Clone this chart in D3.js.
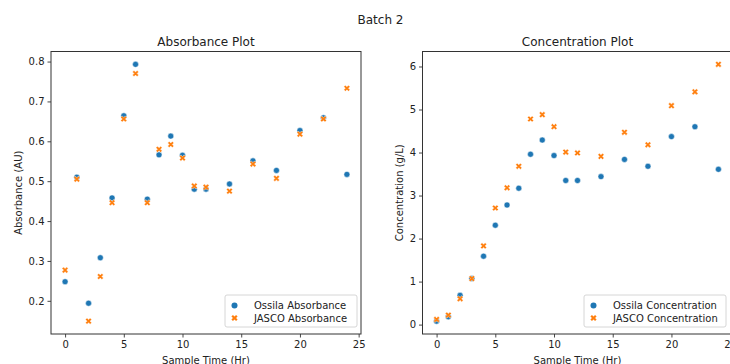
<!DOCTYPE html>
<html>
<head>
<meta charset="utf-8">
<script src="https://cdn.jsdelivr.net/npm/d3@7"></script>
<style>
  body { margin: 0; background: #fff; }
  text { font-family: "DejaVu Sans", sans-serif; fill: #222; }
</style>
</head>
<body>
<div id="chart"></div>
<script>
// sample times (hr)
const hours = [0, 1, 2, 3, 4, 5, 6, 7, 8, 9, 10, 11, 12, 14, 16, 18, 20, 22, 24];

// absorbance readings
const ossilaAbs = [0.248, 0.510, 0.194, 0.308, 0.458, 0.664, 0.793, 0.455, 0.566, 0.613, 0.565, 0.480, 0.480, 0.493, 0.551, 0.527, 0.627, 0.659, 0.517];
const jascoAbs  = [0.277, 0.505, 0.149, 0.261, 0.446, 0.656, 0.770, 0.446, 0.580, 0.592, 0.558, 0.488, 0.485, 0.475, 0.543, 0.507, 0.618, 0.656, 0.733];

// concentration readings (g/L)
const ossilaConc = [0.08, 0.18, 0.68, 1.07, 1.59, 2.31, 2.78, 3.17, 3.96, 4.29, 3.93, 3.35, 3.35, 3.44, 3.84, 3.68, 4.37, 4.60, 3.61];
const jascoConc  = [0.12, 0.22, 0.60, 1.07, 1.83, 2.71, 3.18, 3.68, 4.78, 4.88, 4.60, 4.01, 3.99, 3.91, 4.47, 4.18, 5.09, 5.41, 6.05];

const xTicks = [0, 5, 10, 15, 20, 25];
const absTicks = [0.2, 0.3, 0.4, 0.5, 0.6, 0.7, 0.8];
const concTicks = [0, 1, 2, 3, 4, 5, 6];

const blue = "#1f77b4", orange = "#ff7f0e";

const svg = d3.select("#chart")
    .append("svg")
    .attr("width", 730)
    .attr("height", 364);

svg.append("text")
    .attr("x", 380.5)
    .attr("y", 23.5)
    .attr("text-anchor", "middle")
    .style("font-size", "12px")
    .text("Batch 2");

// matplotlib style 5% padding around the data
function padded(ext) {
    const p = (ext[1] - ext[0]) * 0.05;
    return [ext[0] - p, ext[1] + p];
}

function drawPanel(opt) {
    const w = 310, h = 282.5;
    const g = svg.append("g").attr("transform", `translate(${opt.left},51.5)`);

    const x = d3.scaleLinear().domain(padded(d3.extent(hours))).range([0, w]);
    const y = d3.scaleLinear().domain(padded(d3.extent(opt.a.concat(opt.b)))).range([h, 0]);

    // axes
    const xAxis = g.append("g")
        .attr("transform", `translate(0,${h})`)
        .call(d3.axisBottom(x).tickValues(xTicks).tickSize(3.5).tickPadding(3).tickFormat(d3.format("d")));
    const yAxis = g.append("g")
        .call(d3.axisLeft(y).tickValues(opt.ticks).tickSize(3.5).tickPadding(3).tickFormat(opt.fmt));
    [xAxis, yAxis].forEach(a => {
        a.select(".domain").remove();
        a.selectAll("line").attr("stroke", "#333").attr("stroke-width", 0.9);
        a.selectAll("text").style("font-size", "10px").attr("fill", "#222");
    });

    // frame
    g.append("rect")
        .attr("width", w)
        .attr("height", h)
        .attr("fill", "none")
        .attr("stroke", "#333")
        .attr("stroke-width", 1);

    g.append("text")
        .attr("x", w / 2)
        .attr("y", -6)
        .attr("text-anchor", "middle")
        .style("font-size", "12px")
        .text(opt.title);

    g.append("text")
        .attr("x", w / 2)
        .attr("y", h + 30)
        .attr("text-anchor", "middle")
        .style("font-size", "10px")
        .text("Sample Time (Hr)");

    g.append("text")
        .attr("transform", "rotate(-90)")
        .attr("x", -h / 2)
        .attr("y", opt.ylabelX)
        .attr("text-anchor", "middle")
        .style("font-size", "10px")
        .text(opt.ylabel);

    const cross = d3.symbol().type(d3.symbolCross).size(24);

    g.selectAll(".dotA")
        .data(hours.map((d, i) => [d, opt.a[i]]))
        .enter().append("circle")
        .attr("cx", d => x(d[0]))
        .attr("cy", d => y(d[1]))
        .attr("r", 3)
        .attr("fill", blue)
        .attr("stroke", "#fff")
        .attr("stroke-width", 0.5);

    g.selectAll(".dotB")
        .data(hours.map((d, i) => [d, opt.b[i]]))
        .enter().append("path")
        .attr("d", cross)
        .attr("transform", d => `translate(${x(d[0])},${y(d[1])}) rotate(45)`)
        .attr("fill", orange)
        .attr("stroke", "#fff")
        .attr("stroke-width", 0.4);

    // legend
    const lg = g.append("g").attr("transform", `translate(${opt.legX},243.5)`);
    lg.append("rect")
        .attr("width", opt.legW)
        .attr("height", 32)
        .attr("rx", 2)
        .attr("fill", "#fff")
        .attr("fill-opacity", 0.8)
        .attr("stroke", "#ccc")
        .attr("stroke-width", 0.8);
    lg.append("circle")
        .attr("cx", 9.5).attr("cy", 10.5).attr("r", 3)
        .attr("fill", blue);
    lg.append("path")
        .attr("d", cross)
        .attr("transform", "translate(9.5,23) rotate(45)")
        .attr("fill", orange);
    lg.append("text").attr("x", 29).attr("y", 14).style("font-size", "10px").text(opt.names[0]);
    lg.append("text").attr("x", 29).attr("y", 27).style("font-size", "10px").text(opt.names[1]);
}

drawPanel({
    left: 51, a: ossilaAbs, b: jascoAbs, ticks: absTicks, fmt: d3.format(".1f"),
    title: "Absorbance Plot", ylabel: "Absorbance (AU)", ylabelX: -29,
    legX: 174, legW: 132,
    names: ["Ossila Absorbance", "JASCO Absorbance"]
});

drawPanel({
    left: 422.5, a: ossilaConc, b: jascoConc, ticks: concTicks, fmt: d3.format("d"),
    title: "Concentration Plot", ylabel: "Concentration (g/L)", ylabelX: -20,
    legX: 161.5, legW: 142,
    names: ["Ossila Concentration", "JASCO Concentration"]
});
</script>
</body>
</html>
